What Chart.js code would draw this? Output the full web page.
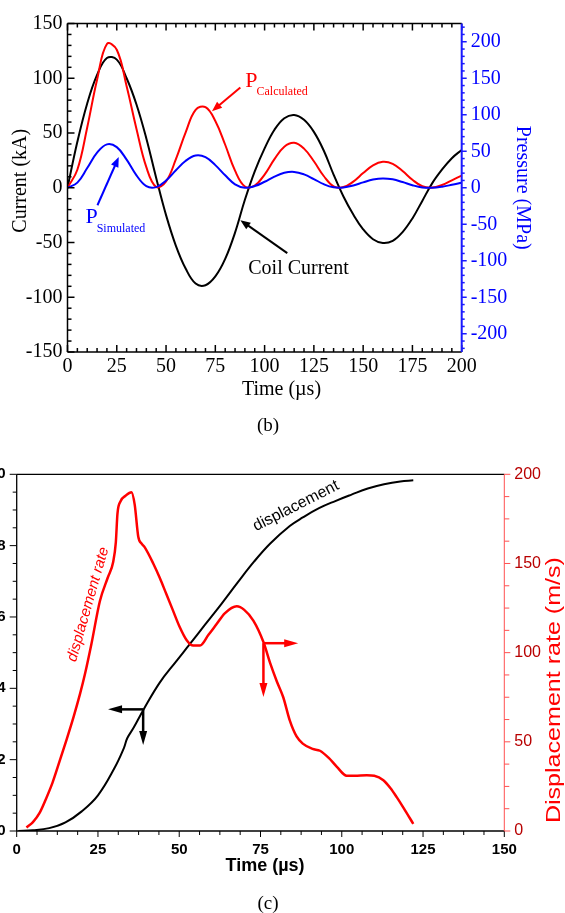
<!DOCTYPE html>
<html>
<head>
<meta charset="utf-8">
<title>Coil current, pressure and displacement</title>
<script src="https://cdn.jsdelivr.net/npm/chart.js@4.4.1/dist/chart.umd.min.js"></script>
<style>
  body { margin: 0; background: #fff; width: 565px; height: 913px; overflow: hidden; position: relative; }
  #chartB { position: absolute; left: 0; top: 0; }
  #chartC { position: absolute; left: -40px; top: 440px; }
  .caption { position: absolute; width: 60px; text-align: center; line-height: 22px;
             font-family: "Liberation Serif", "Times New Roman", serif; font-size: 19px; color: #000; }
</style>
</head>
<body>
<canvas id="chartB" width="565" height="440"></canvas>
<div class="caption" style="left:238px; top:414px;">(b)</div>
<canvas id="chartC" width="605" height="473"></canvas>
<div class="caption" style="left:238px; top:892px;">(c)</div>
<script>
// (b) coil current (kA) and pressure (MPa) against time (us)
var timeB = [0, 5, 10, 15, 20, 25, 30, 35, 40, 45, 50, 55, 60, 65, 70, 75, 80, 85, 90, 95, 100,
             105, 110, 115, 120, 125, 130, 135, 140, 145, 150, 155, 160, 165, 170, 175, 180, 185, 190, 195, 200];
var coilCurrent = [0, 42, 77, 103, 118.5, 117, 100, 76, 45, 9, -25, -53, -74, -87.5, -89, -81, -65, -41, -11, 15, 36,
                   53, 63.5, 66.5, 62, 51, 34, 12, -8, -24.5, -38, -47, -50.5, -48.5, -40.5, -28, -12, 4, 16.5, 27, 34.5];
var pCalculated = [0, 24.6, 82.6, 148, 197, 189, 139, 80.5, 28.2, 1.1, 8.7, 39.2, 76.3, 106.7, 110.4, 91.5, 58.9, 23.4, 1.7, 3.1, 18.1,
                   39.2, 56.2, 61.6, 53.6, 36.3, 16.1, 2, 0.9, 8.4, 20.1, 30.8, 35.6, 32.8, 22.9, 10.9, 2, 0.2, 3.8, 10.2, 16.6];
var pSimulated = [0, 7, 27, 48, 59.4, 55.6, 38.5, 17, 2.2, 0.9, 9.9, 24, 37, 44.2, 42, 31, 17, 4.7, 0, 2.3, 8.2,
                  15.3, 20.5, 21.7, 18.3, 11.9, 4.9, 0.6, 0.4, 3.1, 7.4, 11.2, 12.8, 11.5, 7.8, 3.5, 0.5, 0.1, 1.5, 4, 6.8];
var timeTicksB = [0, 25, 50, 75, 100, 125, 150, 175, 200];
var currentTicks = [-150, -100, -50, 0, 50, 100, 150];
var pressureTicks = [-200, -150, -100, -50, 0, 50, 100, 150, 200];

// (c) displacement and displacement rate (m/s) against time (us)
var dispTime = [0.5, 5, 10, 15, 20, 25, 30, 33, 34, 36, 39, 44, 49, 53, 58, 63, 68, 73, 78, 84, 88, 93, 98, 103, 108, 113, 118, 122];
var displacement = [0, 0.002, 0.008, 0.024, 0.055, 0.1, 0.175, 0.233, 0.26, 0.29, 0.34, 0.416, 0.475, 0.521,
                    0.579, 0.637, 0.697, 0.755, 0.806, 0.855, 0.879, 0.905, 0.925, 0.943, 0.96, 0.972, 0.98, 0.983];
var rateTime = [3, 5, 7, 9, 11, 13, 15.3, 17.5, 19.5, 21, 23, 25.6, 28, 29.7, 30.5, 31, 32, 33.5, 35.3, 36.3,
                37.4, 38.5, 39.4, 42, 44, 46, 48, 50, 52.3, 54.3, 56.4, 59, 61.5, 64, 67.7, 70, 72.8, 75.9, 78, 80,
                82, 84, 86.1, 88, 91, 93.3, 96, 98.5, 101.5, 104, 107.7, 110, 112.8, 115, 116.9, 119, 122];
var dispRate = [2, 5, 10, 18, 27, 38, 51, 64, 77, 88, 105, 129, 142, 151, 162, 178, 185, 188, 190, 183,
                165, 161, 159, 150, 142, 133, 124, 115, 107, 104, 104, 110, 116, 122, 126, 124, 118, 106, 94, 84,
                75, 62, 53, 49, 46, 45, 41, 36, 31, 31, 31.3, 31, 28.5, 24, 19, 13, 4];
var timeTicksC = [0, 25, 50, 75, 100, 125, 150];
var dispTicks = [0, 0.2, 0.4, 0.6, 0.8, 1.0];
var rateTicks = [0, 50, 100, 150, 200];

var SERIF = '"Liberation Serif", "Times New Roman", serif';
var SANS = '"Liberation Sans", Arial, sans-serif';

function toPoints(xs, ys) {
    return xs.map(function (x, i) { return { x: x, y: ys[i] }; });
}
function setTicks(list) {
    return function (scale) { scale.ticks = list.map(function (v) { return { value: v }; }); };
}
function range(a, b, step) {
    var out = [];
    for (var v = a; v <= b + 1e-9; v += step) out.push(Math.round(v * 1000) / 1000);
    return out;
}
// tick marks along one edge; dir = +1/-1 picks the side
function tickMarks(ctx, scale, values, majorStep, edge, dir, majorLen, minorLen) {
    values.forEach(function (v) {
        var p = scale.getPixelForValue(v);
        var r = v / majorStep;
        var len = (Math.abs(r - Math.round(r)) < 1e-6 ? majorLen : minorLen) * dir;
        ctx.beginPath();
        if (scale.isHorizontal()) { ctx.moveTo(p, edge); ctx.lineTo(p, edge + len); }
        else { ctx.moveTo(edge, p); ctx.lineTo(edge + len, p); }
        ctx.stroke();
    });
}
function line(ctx, x1, y1, x2, y2) {
    ctx.beginPath(); ctx.moveTo(x1, y1); ctx.lineTo(x2, y2); ctx.stroke();
}
function arrow(ctx, x1, y1, x2, y2, color, w, head, half) {
    var ang = Math.atan2(y2 - y1, x2 - x1), c = Math.cos(ang), s = Math.sin(ang);
    ctx.strokeStyle = color; ctx.fillStyle = color; ctx.lineWidth = w;
    line(ctx, x1, y1, x2 - c * head * 0.7, y2 - s * head * 0.7);
    ctx.beginPath();
    ctx.moveTo(x2, y2);
    ctx.lineTo(x2 - head * c + half * s, y2 - head * s - half * c);
    ctx.lineTo(x2 - head * c - half * s, y2 - head * s + half * c);
    ctx.closePath();
    ctx.fill();
}
function subLabel(ctx, main, sub, x, y, ySub, color) {
    ctx.fillStyle = color;
    ctx.textBaseline = 'alphabetic';
    ctx.textAlign = 'left';
    ctx.font = '22px ' + SERIF;
    ctx.fillText(main, x, y);
    var w = ctx.measureText(main).width;
    ctx.font = '12px ' + SERIF;
    ctx.fillText(sub, x + w - 1, ySub);
}

var frameB = {
    id: 'frameB',
    afterDraw: function (chart) {
        var ctx = chart.ctx, a = chart.chartArea, s = chart.scales;
        ctx.save();
        ctx.lineWidth = 1.5;
        ctx.strokeStyle = '#000';
        line(ctx, a.left, a.top, a.left, a.bottom);
        line(ctx, a.left, a.bottom, a.right, a.bottom);
        line(ctx, a.left, a.top, a.right, a.top);
        tickMarks(ctx, s.y, range(-150, 150, 10), 50, a.left, 1, 7, 4);
        tickMarks(ctx, s.x, range(0, 200, 5), 25, a.bottom, -1, 7, 4);
        tickMarks(ctx, s.x, range(0, 200, 5), 25, a.top, 1, 7, 4);
        ctx.strokeStyle = '#1a1aff';
        ctx.lineWidth = 2;
        line(ctx, a.right, a.top, a.right, a.bottom);
        ctx.lineWidth = 1.5;
        tickMarks(ctx, s.y2, range(-220, 220, 10), 50, a.right, 1, 5, 3);

        // axis titles (sit a little off-centre in the original)
        ctx.fillStyle = '#000';
        ctx.font = '20px ' + SERIF;
        ctx.textAlign = 'center';
        ctx.textBaseline = 'middle';
        ctx.fillText('Time (µs)', a.left + 214, a.bottom + 38);
        ctx.save();
        ctx.translate(21, (a.top + a.bottom) / 2 - 7);
        ctx.rotate(-Math.PI / 2);
        ctx.fillText('Current (kA)', 0, 0);
        ctx.restore();

        // labels with arrows
        var x = s.x, y = s.y;
        subLabel(ctx, 'P', 'Calculated', x.getPixelForValue(90.2), y.getPixelForValue(91.6), y.getPixelForValue(84.3), '#ff0000');
        arrow(ctx, x.getPixelForValue(87.7), y.getPixelForValue(91.6), x.getPixelForValue(73.3), y.getPixelForValue(69.9), '#ff0000', 2, 10, 4);
        subLabel(ctx, 'P', 'Simulated', x.getPixelForValue(9.1), y.getPixelForValue(-32.4), y.getPixelForValue(-40.3), '#0000ff');
        arrow(ctx, x.getPixelForValue(15.2), y.getPixelForValue(-16), x.getPixelForValue(26), y.getPixelForValue(28), '#0000ff', 2, 10, 4);
        ctx.fillStyle = '#000';
        ctx.font = '20px ' + SERIF;
        ctx.fillText('Coil Current', x.getPixelForValue(91.7), y.getPixelForValue(-78.9));
        arrow(ctx, x.getPixelForValue(111.5), y.getPixelForValue(-59.7), x.getPixelForValue(87.7), y.getPixelForValue(-29.6), '#000', 2, 10, 4);
        ctx.restore();
    }
};

var serifFont = { family: SERIF, size: 20 };

new Chart(document.getElementById('chartB'), {
    type: 'line',
    data: {
        datasets: [
            { label: 'P Simulated', data: toPoints(timeB, pSimulated), borderColor: '#0000ff', yAxisID: 'y2' },
            { label: 'P Calculated', data: toPoints(timeB, pCalculated), borderColor: '#ff0000', yAxisID: 'y2' },
            { label: 'Coil Current', data: toPoints(timeB, coilCurrent), borderColor: '#000000', yAxisID: 'y' }
        ]
    },
    options: {
        responsive: false,
        animation: false,
        layout: { padding: { top: 23.5, left: 0, right: 0, bottom: 0 } },
        elements: {
            point: { radius: 0 },
            line: { borderWidth: 2, fill: false, tension: 0.4 }
        },
        plugins: { legend: { display: false }, tooltip: { enabled: false } },
        scales: {
            x: {
                type: 'linear', min: 0, max: 200,
                afterBuildTicks: setTicks(timeTicksB),
                afterFit: function (sc) { sc.height = 88; },
                grid: { display: false, drawTicks: false }, border: { display: false },
                ticks: { color: '#000', font: serifFont, padding: 3, maxRotation: 0, autoSkip: false }
            },
            y: {
                position: 'left', min: -150, max: 150,
                afterBuildTicks: setTicks(currentTicks),
                afterFit: function (sc) { sc.width = 67.5; },
                grid: { display: false, drawTicks: false }, border: { display: false },
                ticks: { color: '#000', font: serifFont, padding: 5, autoSkip: false }
            },
            y2: {
                position: 'right', min: -225, max: 225,
                afterBuildTicks: setTicks(pressureTicks),
                afterFit: function (sc) { sc.width = 103.3; },
                grid: { display: false, drawTicks: false }, border: { display: false },
                ticks: { color: '#0000ff', font: serifFont, padding: 9, autoSkip: false },
                title: { display: true, text: 'Pressure (MPa)', color: '#0000ff', font: serifFont, padding: { top: 31, bottom: 0 } }
            }
        }
    },
    plugins: [frameB]
});

var frameC = {
    id: 'frameC',
    afterDraw: function (chart) {
        var ctx = chart.ctx, a = chart.chartArea, s = chart.scales;
        ctx.save();
        ctx.lineWidth = 1.3;
        ctx.strokeStyle = '#000';
        line(ctx, a.left, a.top, a.left, a.bottom);
        line(ctx, a.left, a.bottom, a.right, a.bottom);
        line(ctx, a.left, a.top, a.right, a.top);
        ctx.lineWidth = 1;
        tickMarks(ctx, s.y, range(0, 1, 0.05), 0.2, a.left, -1, 7, 4);
        tickMarks(ctx, s.x, range(0, 150, 6.25), 25, a.bottom, 1, 6, 4);
        ctx.strokeStyle = '#ff5050';
        line(ctx, a.right, a.top, a.right, a.bottom);
        tickMarks(ctx, s.y2, range(0, 200, 12.5), 50, a.right, 1, 6, 5);

        // right axis title, reading upwards
        ctx.fillStyle = '#ff0000';
        ctx.font = '21px ' + SANS;
        ctx.textAlign = 'center';
        ctx.textBaseline = 'middle';
        var title = 'Displacement rate (m/s)';
        var w = ctx.measureText(title).width;
        ctx.save();
        ctx.translate(s.y2.right - 11, s.y2.getPixelForValue(79));
        ctx.rotate(-Math.PI / 2);
        ctx.scale(266 / w, 1);
        ctx.fillText(title, 0, 0);
        ctx.restore();

        // x axis title
        ctx.fillStyle = '#000';
        ctx.font = 'bold 18px ' + SANS;
        ctx.fillText('Time (µs)', (a.left + a.right) / 2 + 4.5, a.bottom + 35);

        // curve labels
        var x = s.x, y = s.y, y2 = s.y2;
        ctx.textAlign = 'left';
        ctx.textBaseline = 'alphabetic';
        ctx.save();
        ctx.translate(x.getPixelForValue(18.2), y2.getPixelForValue(94.5));
        ctx.rotate(-74 * Math.PI / 180);
        ctx.font = 'italic 15px ' + SANS;
        ctx.fillStyle = '#ff0000';
        ctx.fillText('displacement rate', 0, 0);
        ctx.restore();
        ctx.save();
        ctx.translate(x.getPixelForValue(73.6), y.getPixelForValue(0.84));
        ctx.rotate(-27 * Math.PI / 180);
        ctx.font = '16px ' + SANS;
        ctx.fillStyle = '#000';
        ctx.fillText('displacement', 0, 0);
        ctx.restore();

        // axis pointers
        var bx = x.getPixelForValue(38.9), by = y.getPixelForValue(0.341);
        arrow(ctx, bx, by, x.getPixelForValue(28.1), by, '#000', 2.5, 14, 4);
        arrow(ctx, bx, by, bx, y.getPixelForValue(0.241), '#000', 2.5, 14, 4);
        var rx = x.getPixelForValue(75.9), ry = y2.getPixelForValue(105.3);
        arrow(ctx, rx, ry, x.getPixelForValue(86.6), ry, '#ff0000', 2.5, 14, 4);
        arrow(ctx, rx, ry, rx, y2.getPixelForValue(75.1), '#ff0000', 2.5, 14, 4);
        ctx.restore();
    }
};

new Chart(document.getElementById('chartC'), {
    type: 'line',
    data: {
        datasets: [
            { label: 'displacement rate', data: toPoints(rateTime, dispRate), borderColor: '#ff0000', borderWidth: 2.5,
              yAxisID: 'y2', cubicInterpolationMode: 'monotone' },
            { label: 'displacement', data: toPoints(dispTime, displacement), borderColor: '#000000', borderWidth: 2,
              yAxisID: 'y', tension: 0.4 }
        ]
    },
    options: {
        responsive: false,
        animation: false,
        layout: { padding: { top: 34.3, left: 0, right: 0, bottom: 0 } },
        elements: {
            point: { radius: 0 },
            line: { fill: false }
        },
        plugins: { legend: { display: false }, tooltip: { enabled: false } },
        scales: {
            x: {
                type: 'linear', min: 0, max: 150,
                afterBuildTicks: setTicks(timeTicksC),
                afterFit: function (sc) { sc.height = 82; },
                grid: { display: false, drawTicks: false }, border: { display: false },
                ticks: { color: '#000', font: { family: SANS, size: 15, weight: 'bold' }, padding: 10, maxRotation: 0, autoSkip: false }
            },
            y: {
                position: 'left', min: 0, max: 1,
                afterBuildTicks: setTicks(dispTicks),
                afterFit: function (sc) { sc.width = 56.7; },
                grid: { display: false, drawTicks: false }, border: { display: false },
                ticks: { color: '#000', font: { family: SANS, size: 15, weight: 'bold' }, padding: 11, autoSkip: false,
                         callback: function (v) { return v.toFixed(1); } }
            },
            y2: {
                position: 'right', min: 0, max: 200,
                afterBuildTicks: setTicks(rateTicks),
                afterFit: function (sc) { sc.width = 60.7; },
                grid: { display: false, drawTicks: false }, border: { display: false },
                ticks: { color: '#b80000', font: { family: SANS, size: 16 }, padding: 10, autoSkip: false }
            }
        }
    },
    plugins: [frameC]
});
</script>
</body>
</html>
